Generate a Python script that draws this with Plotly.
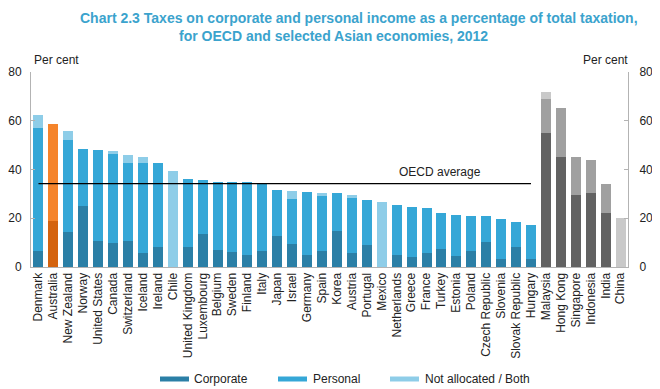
import plotly.graph_objects as go

countries = ["Denmark", "Australia", "New Zealand", "Norway", "United States", "Canada",
             "Switzerland", "Iceland", "Ireland", "Chile", "United Kingdom", "Luxembourg",
             "Belgium", "Sweden", "Finland", "Italy", "Japan", "Israel", "Germany", "Spain",
             "Korea", "Austria", "Portugal", "Mexico", "Netherlands", "Greece", "France",
             "Turkey", "Estonia", "Poland", "Czech Republic", "Slovenia", "Slovak Republic",
             "Hungary", "Malaysia", "Hong Kong", "Singapore", "Indonesia", "India", "China"]

corporate = [6.7, 18.7, 14.4, 25.0, 10.5, 10.0, 10.8, 5.9, 8.3, 0, 8.3, 13.5,
             7.0, 6.0, 4.9, 6.7, 12.7, 9.4, 4.9, 6.7, 14.9, 5.7, 9.0, 0, 4.9, 4.0,
             5.6, 7.4, 4.5, 6.7, 10.4, 3.3, 8.3, 3.3, 54.8, 45.3, 29.5, 30.2, 22.0, 0]
personal = [50.5, 39.8, 37.7, 23.5, 37.6, 36.2, 31.7, 36.9, 34.2, 0, 27.9, 22.2,
            28.0, 28.7, 29.8, 27.3, 18.9, 18.3, 25.9, 22.6, 15.3, 22.6, 18.5, 0, 20.5, 20.5,
            18.5, 14.9, 16.8, 14.2, 10.5, 16.3, 10.3, 13.9, 14.2, 20.1, 15.8, 13.7, 11.9, 0]
not_allocated = [5.0, 0, 3.7, 0, 0, 1.4, 3.5, 2.5, 0, 39.4, 0, 0,
                 0, 0, 0, 0, 0, 3.3, 0, 0.9, 0, 1.4, 0, 26.5, 0, 0,
                 0, 0, 0, 0, 0, 0, 0, 0, 2.8, 0, 0, 0, 0, 20.3]

oecd_average = 34.2
oecd_first, oecd_last = "Denmark", "Hungary"
highlight = "Australia"
asian = ["Malaysia", "Hong Kong", "Singapore", "Indonesia", "India", "China"]
y_ticks = [0, 20, 40, 60, 80]

series_names = ["Corporate", "Personal", "Not allocated / Both"]
base_colors = ["#2b7fa6", "#35a7d7", "#8ecde8"]
aus_colors = ["#d4630f", "#f5842b", "#f8b27a"]
asia_colors = ["#626262", "#a0a0a0", "#c9c9c9"]


def colors_for(k):
    out = []
    for c in countries:
        if c == highlight:
            out.append(aus_colors[k])
        elif c in asian:
            out.append(asia_colors[k])
        else:
            out.append(base_colors[k])
    return out


fig = go.Figure()
for k, vals in enumerate([corporate, personal, not_allocated]):
    fig.add_trace(go.Bar(x=countries, y=vals, name=series_names[k],
                         marker=dict(color=colors_for(k), line=dict(width=0)),
                         showlegend=False, hoverinfo="x+y+name"))

FONT = "Liberation Sans, Arial, sans-serif"
axis_col = "#b3b3b3"

# The page body has an 8px margin, so the figure is 652x381 placed at (8, 8).
fig.update_layout(
    width=652, height=381,
    margin=dict(l=23, r=32, t=64, b=122, autoexpand=False),
    barmode="stack", bargap=0.33,
    plot_bgcolor="white", paper_bgcolor="white",
    font=dict(family=FONT, size=12, color="#222222"),
    xaxis=dict(type="category", range=[-0.5, len(countries) - 0.5],
               tickangle=-90, tickfont=dict(size=12, color="#222222"),
               showline=True, linecolor=axis_col, linewidth=1,
               ticks="", showgrid=False, fixedrange=True, automargin=False),
    yaxis=dict(range=[0, 80], tickvals=y_ticks, showgrid=False, zeroline=False,
               showline=True, linecolor=axis_col, linewidth=1,
               ticks="inside", ticklen=4, tickcolor=axis_col, automargin=False,
               tickfont=dict(size=12, color="#222222"), ticklabelstandoff=6),
    yaxis2=dict(range=[0, 80], tickvals=y_ticks, overlaying="y", side="right",
                showgrid=False, zeroline=False, automargin=False,
                showline=True, linecolor=axis_col, linewidth=1,
                ticks="inside", ticklen=4, tickcolor=axis_col,
                tickfont=dict(size=12, color="#222222"), ticklabelstandoff=8),
)
# invisible trace to anchor right axis
fig.add_trace(go.Scatter(x=[countries[0]], y=[0], yaxis="y2", mode="markers",
                         marker=dict(opacity=0), showlegend=False, hoverinfo="skip"))

# OECD average line
fig.add_shape(type="line", xref="x", yref="y",
              x0=countries.index(oecd_first), x1=countries.index(oecd_last),
              y0=oecd_average, y1=oecd_average,
              line=dict(color="#000000", width=1.2))
fig.add_annotation(x=countries.index("Netherlands"), y=oecd_average, xref="x", yref="y",
                   text="OECD average", showarrow=False, xanchor="left", yanchor="bottom",
                   yshift=3, font=dict(size=12, color="#222222"))

# Title
title_col = "#3ba3cd"
fig.add_annotation(text="<b>Chart 2.3 Taxes on corporate and personal income as a percentage of total taxation,</b>",
                   x=(359 - 31) / 597, y=(267 - 18) / 195, xref="paper", yref="paper",
                   xanchor="center", yanchor="middle", showarrow=False,
                   font=dict(size=14, color=title_col))
fig.add_annotation(text="<b>for OECD and selected Asian economies, 2012</b>",
                   x=(333 - 31) / 597, y=(267 - 36) / 195, xref="paper", yref="paper",
                   xanchor="center", yanchor="middle", showarrow=False,
                   font=dict(size=14, color=title_col))

# Per cent labels
fig.add_annotation(text="Per cent", x=(32 - 31) / 597, y=(267 - 60) / 195, xref="paper", yref="paper",
                   xanchor="left", yanchor="middle", showarrow=False, font=dict(size=12))
fig.add_annotation(text="Per cent", x=(630 - 31) / 597, y=(267 - 60) / 195, xref="paper", yref="paper",
                   xanchor="right", yanchor="middle", showarrow=False, font=dict(size=12))

# Custom legend
legend_items = [(160, 192), (278, 311), (390, 423)]
ly = (267 - 379) / 195
for (sx, tx), name, col in zip(legend_items, series_names, base_colors):
    fig.add_shape(type="rect", xref="paper", yref="paper",
                  x0=(sx - 31) / 597, x1=(sx + 29 - 31) / 597,
                  y0=ly - 2.5 / 195, y1=ly + 2.5 / 195,
                  fillcolor=col, line=dict(width=0))
    fig.add_annotation(text=name, x=(tx - 31) / 597, y=ly, xref="paper", yref="paper",
                       xanchor="left", yanchor="middle", showarrow=False,
                       font=dict(size=12, color="#222222"))

fig.write_html("out.html")
